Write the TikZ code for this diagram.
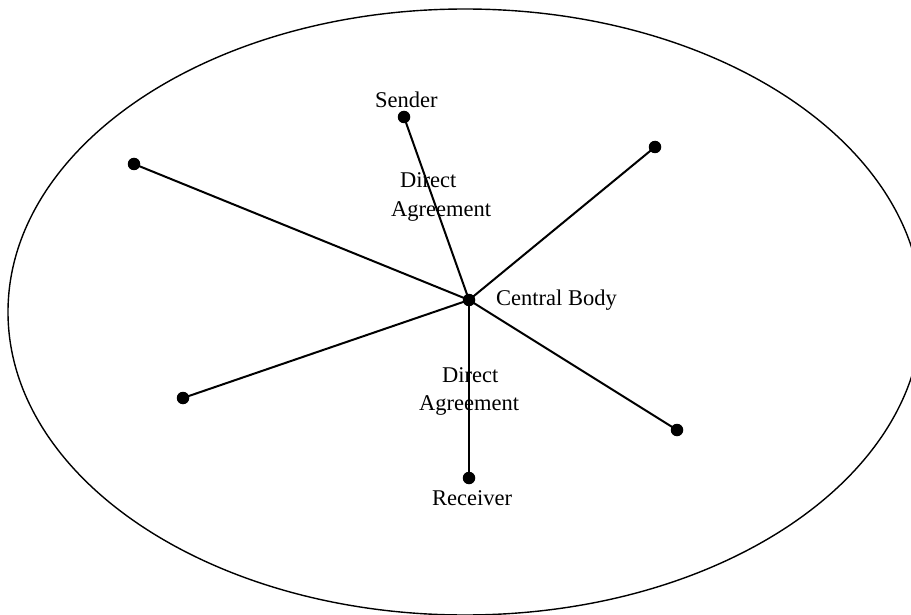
\documentclass[tikz,border=0pt]{standalone}
\usepackage{fontspec}
\setmainfont{Liberation Serif}
\begin{document}
\begin{tikzpicture}[x=1pt,y=-1pt,
  dot/.style={circle,fill=black,inner sep=0pt,minimum size=12.5pt},
  spoke/.style={line width=2pt},
  lbl/.style={inner sep=0pt,anchor=base west,font=\fontsize{22.5}{28}\selectfont},
  boundary/.style={line width=1.4pt}]
  \useasboundingbox (0,0) rectangle (911,615);
  \clip (0,0) rectangle (911,615);
  % enclosing boundary
  \draw[boundary] (465,312) ellipse [x radius=457, y radius=303];
  % members
  \node[dot] (c)   at (469,300) {};
  \node[dot] (snd) at (404,117) {};
  \node[dot] (rcv) at (469,478) {};
  \node[dot] (nw)  at (134,164) {};
  \node[dot] (ne)  at (655,147) {};
  \node[dot] (sw)  at (183,398) {};
  \node[dot] (se)  at (677,430) {};
  % links to the central body
  \foreach \m in {snd,rcv,nw,ne,sw,se}
    \draw[spoke] (c.center) -- (\m.center);
  % labels
  \node[lbl] (tsnd) at (375,108) {Sender};
  \node[lbl] (tcb)  at (496,305) {Central Body};
  \node[lbl] (trcv) at (432,505) {Receiver};
  \node[lbl] (da1)  at (400,188) {Direct};
  \node[lbl] (ag1)  at (391,216) {Agreement};
  \node[lbl] (da2)  at (442,382) {Direct};
  \node[lbl] (ag2)  at (419,410) {Agreement};
\end{tikzpicture}
\end{document}
